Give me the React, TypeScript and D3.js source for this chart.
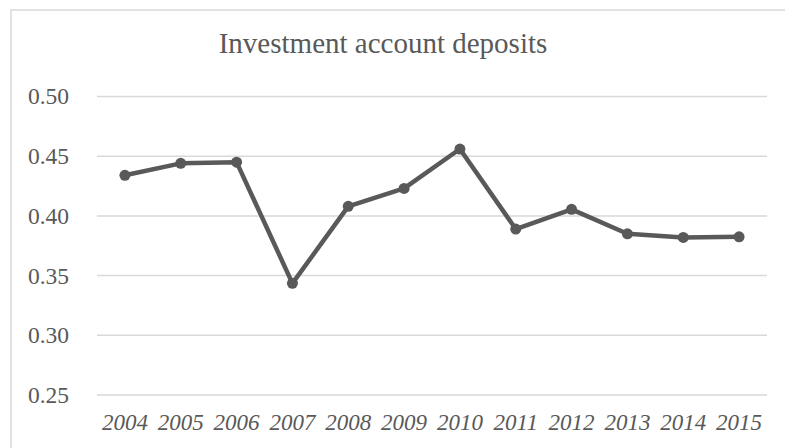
import React from "react";
import * as d3 from "d3";

const years = ["2004","2005","2006","2007","2008","2009","2010","2011","2012","2013","2014","2015"];
const values = [0.434, 0.444, 0.445, 0.3435, 0.408, 0.423, 0.456, 0.389, 0.4055, 0.385, 0.382, 0.3825];
const yTicks = [0.25, 0.30, 0.35, 0.40, 0.45, 0.50];
const title = "Investment account deposits";

export default function App() {
  const W = 785, H = 448;
  const x = d3.scaleBand<string>().domain(years).range([97, 767]);
  const y = d3.scaleLinear().domain([0.25, 0.5]).range([395, 96.5]);
  const line = d3.line<number>()
    .x((_, i) => (x(years[i]) as number) + x.bandwidth() / 2)
    .y((d) => y(d));
  const fontStyle = { fontFamily: '"Liberation Serif", "Times New Roman", Times, serif' };
  const textColor = "#595959";
  return (
    <svg width={W} height={H} style={{ position: "fixed", left: 0, top: 0, background: "#fff" }}>
      <rect x={0} y={0} width={W} height={H} fill="#fff" />
      <rect x={11} y={10} width={W + 20} height={H + 20} fill="#fff" stroke="#d9d9d9" strokeWidth={1.5} />
      <text x={383} y={53} textAnchor="middle" style={fontStyle} fontSize={29} fill={textColor}>{title}</text>
      {yTicks.map((t) => (
        <g key={t}>
          <line x1={97} x2={767} y1={y(t)} y2={y(t)} stroke="#d9d9d9" strokeWidth={1.5} />
          <text x={69} y={y(t)} dy="0.34em" textAnchor="end" style={fontStyle} fontSize={23.5} fill={textColor}>{t.toFixed(2)}</text>
        </g>
      ))}
      {years.map((yr) => (
        <text key={yr} x={(x(yr) as number) + x.bandwidth() / 2} y={430} textAnchor="middle" style={fontStyle} fontStyle="italic" fontSize={23} fill={textColor}>{yr}</text>
      ))}
      <path d={line(values) || ""} fill="none" stroke="#595959" strokeWidth={4.5} strokeLinejoin="round" strokeLinecap="round" />
      {values.map((v, i) => (
        <circle key={i} cx={(x(years[i]) as number) + x.bandwidth() / 2} cy={y(v)} r={5.5} fill="#595959" />
      ))}
    </svg>
  );
}
